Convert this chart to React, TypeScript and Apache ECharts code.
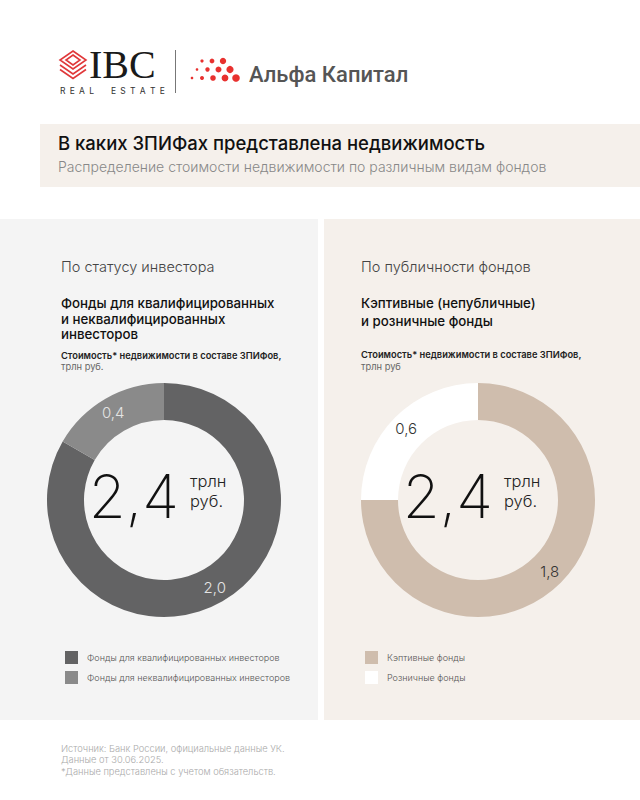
import React, { useEffect, useRef } from "react";
import * as echarts from "echarts";

const leftNames = ["Фонды для квалифицированных инвесторов", "Фонды для неквалифицированных инвесторов"];
const leftValues = [2.0, 0.4];
const leftColors = ["#636364", "#8a8a8a"];

const rightNames = ["Кэптивные фонды", "Розничные фонды"];
const rightValues = [1.8, 0.6];
const rightColors = ["#cfbdad", "#ffffff"];

const title = "В каких ЗПИФах представлена недвижимость";
const subtitle = "Распределение стоимости недвижимости по различным видам фондов";
const leftHeader = "По статусу инвестора";
const leftTitle = ["Фонды для квалифицированных", "и неквалифицированных", "инвесторов"];
const rightHeader = "По публичности фондов";
const rightTitle = ["Кэптивные (непубличные)", "и розничные фонды"];
const unitsNote = "Стоимость* недвижимости в составе ЗПИФов,";
const leftUnit = "трлн руб.";
const rightUnit = "трлн руб";
const centerUnit = ["трлн", "руб."];
const footer = [
  "Источник: Банк России, официальные данные УК.",
  "Данные от 30.06.2025.",
  "*Данные представлены с учетом обязательств.",
];

const FONT = "Inter, 'Open Sans', sans-serif";
const fmt = (v: number) => v.toFixed(1).replace(".", ",");

export default function App() {
  const ref = useRef<HTMLDivElement>(null);
  useEffect(() => {
    document.body.style.margin = "0";
    const chart = echarts.init(ref.current!, null, { renderer: "svg" });

    const txt = (x: number, y: number, text: string, size: number, color: string, weight: any = 400, align: any = "left", family = FONT) => ({
      type: "text",
      x,
      y,
      silent: true,
      style: { text, fontSize: size, fill: color, fontWeight: weight, fontFamily: family, textAlign: align, textVerticalAlign: "middle" },
    });

    const centerTexts = (cx: number, cy: number, values: number[]) => {
      const total = values.reduce((a, b) => a + b, 0);
      return [
        txt(cx + 15, cy - 1, fmt(total), 60, "#111", 200, "right"),
        txt(cx + 26, cy - 16, centerUnit[0], 16.5, "#222", 300),
        txt(cx + 26, cy + 3.5, centerUnit[1], 16.5, "#222", 300),
      ];
    };

    const sp = "\u2002";
    const realEstateText = "REAL ESTATE".split("").map((c) => (c === " " ? sp + sp : c)).join(sp);

    const dots: any[] = [];
    const dotRows = [
      { y: 61, xs: [202, 212, 223], r: [1.6, 2.4, 3.2] },
      { y: 69.5, xs: [197, 207.5, 218.5, 230], r: [1.3, 2.2, 3, 3.6] },
      { y: 78, xs: [192, 202, 213, 225, 236], r: [1.3, 2, 2.8, 3.4, 3.8] },
    ];
    dotRows.forEach((row) =>
      row.xs.forEach((x, i) =>
        dots.push({ type: "circle", silent: true, shape: { cx: x, cy: row.y, r: row.r[i] }, style: { fill: "#e8312f" } })
      )
    );

    const iconStyle = { stroke: "#e0383a", lineWidth: 1.6, fill: "none" };
    const icon = [
      { type: "polygon", silent: true, shape: { points: [[73, 51], [86, 60], [73, 69], [60, 60]] }, style: iconStyle },
      { type: "polygon", silent: true, shape: { points: [[73, 55], [80, 60], [73, 65], [66, 60]] }, style: iconStyle },
      { type: "polyline", silent: true, shape: { points: [[60, 65], [73, 74], [86, 65]] }, style: iconStyle },
      { type: "polyline", silent: true, shape: { points: [[60, 69.5], [73, 78.5], [86, 69.5]] }, style: iconStyle },
    ];

    const pieBase = (cx: number, names: string[], values: number[], colors: string[], labelColor: string) => ({
      type: "pie",
      silent: true,
      center: [cx, 500],
      radius: [80, 117],
      startAngle: 90,
      clockwise: true,
      avoidLabelOverlap: false,
      label: {
        show: true,
        position: "inside",
        formatter: (p: any) => fmt(p.value),
        color: labelColor,
        fontSize: 15,
        fontWeight: 300,
        fontFamily: FONT,
      },
      labelLine: { show: false },
      itemStyle: { borderWidth: 0 },
      data: names.map((n, i) => ({ name: n, value: values[i], itemStyle: { color: colors[i] } })),
    });

    const legendBase = (left: number, names: string[]) => ({
      data: names,
      left,
      top: 646,
      orient: "vertical",
      icon: "rect",
      itemWidth: 13,
      itemHeight: 13,
      itemGap: 7,
      selectedMode: false,
      textStyle: { fontSize: 9, color: "#555", fontFamily: FONT, fontWeight: 300, padding: [0, 0, 0, 4] },
    });

    chart.setOption({
      animation: false,
      backgroundColor: "#ffffff",
      legend: [legendBase(60, leftNames), legendBase(360, rightNames)],
      graphic: [
        { type: "rect", silent: true, z: -10, shape: { x: 40, y: 124, width: 600, height: 63 }, style: { fill: "#f5f0eb" } },
        { type: "rect", silent: true, z: -10, shape: { x: 0, y: 219, width: 318, height: 501 }, style: { fill: "#f4f4f4" } },
        { type: "rect", silent: true, z: -10, shape: { x: 324, y: 219, width: 316, height: 501 }, style: { fill: "#f5f0eb" } },
        ...icon,
        txt(89, 64.5, "IBC", 40, "#1a1a1a", 400, "left", "'Liberation Serif', 'DejaVu Serif', serif"),
        txt(60, 90.5, realEstateText, 8.5, "#333", 400, "left"),
        { type: "line", silent: true, shape: { x1: 175.5, y1: 50, x2: 175.5, y2: 93 }, style: { stroke: "#777", lineWidth: 1 } },
        ...dots,
        txt(249, 74, "Альфа Капитал", 22, "#555", 500, "left", "Roboto, Inter, sans-serif"),
        txt(58, 143, title, 18.5, "#111", 500),
        txt(58, 166, subtitle, 14, "#888", 300),
        txt(61, 266, leftHeader, 14.5, "#444", 300),
        ...leftTitle.map((l, i) => txt(61, 303 + i * 15.5, l, 13.3, "#111", 500)),
        txt(61, 355, unitsNote, 9.3, "#222", 600),
        txt(61, 366, leftUnit, 9.3, "#666", 400),
        txt(361, 266, rightHeader, 14.5, "#444", 300),
        ...rightTitle.map((l, i) => txt(361, 303 + i * 17.5, l, 13.3, "#111", 500)),
        txt(361, 354, unitsNote, 9.3, "#222", 600),
        txt(361, 366, rightUnit, 9.3, "#666", 400),
        ...centerTexts(164, 497, leftValues),
        ...centerTexts(478, 497, rightValues),
        ...footer.map((l, i) => txt(61, 748 + i * 11.7, l, 9.3, "#aaa", 300)),
      ],
      series: [pieBase(164, leftNames, leftValues, leftColors, "#e4e4e4"), pieBase(478, rightNames, rightValues, rightColors, "#333")],
    });
    return () => chart.dispose();
  }, []);
  return <div ref={ref} style={{ width: 640, height: 800 }} />;
}
